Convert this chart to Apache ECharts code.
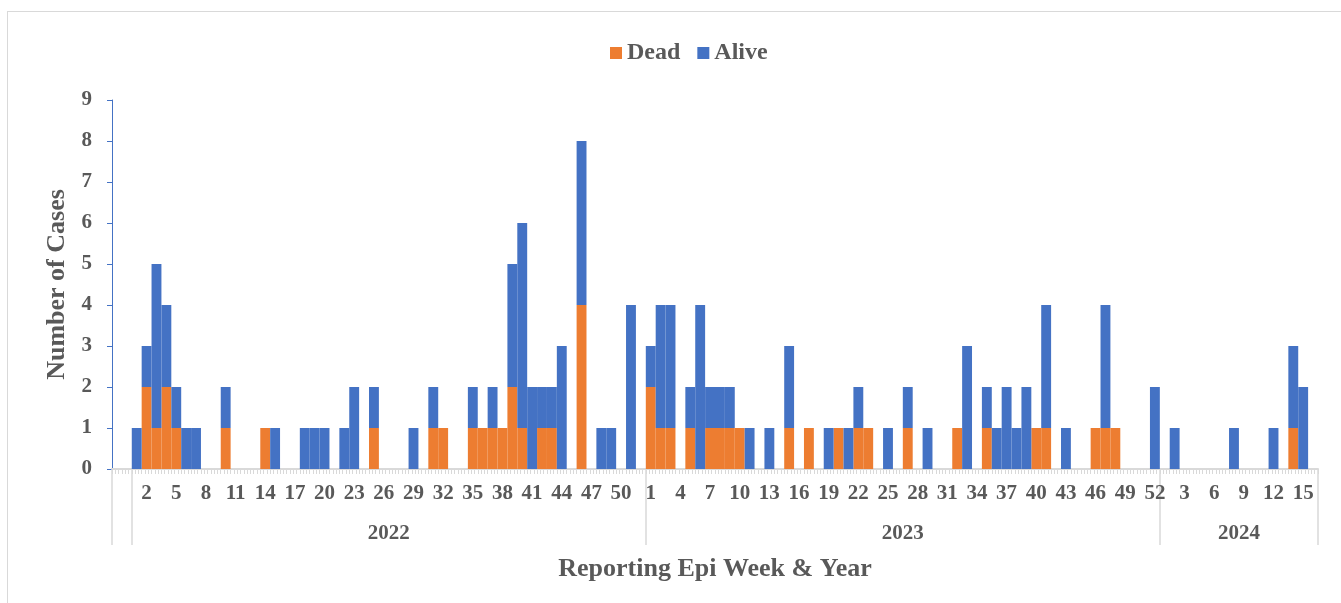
<!DOCTYPE html>
<html>
<head>
<meta charset="utf-8">
<script src="https://cdn.jsdelivr.net/npm/echarts@6/dist/echarts.min.js"></script>
<style>
  html, body { margin: 0; padding: 0; background: #fff; }
  #chart { position: absolute; left: 0; top: 0; width: 1341px; height: 603px; }
  #frame { position: absolute; left: 7px; top: 11px; width: 1340px; height: 600px; border: 1px solid #d9d9d9; pointer-events: none; }
</style>
</head>
<body>
<div id="frame"></div>
<div id="chart"></div>
<script>
// cases per reporting epi week (Dead stacked under Alive)
const dead2022 = [0, 2, 1, 2, 1, 0, 0, 0, 0, 1, 0, 0, 0, 1, 0, 0, 0, 0, 0, 0, 0, 0, 0, 0, 1, 0,
                  0, 0, 0, 0, 1, 1, 0, 0, 1, 1, 1, 1, 2, 1, 0, 1, 1, 0, 0, 4, 0, 0, 0, 0, 0, 0]
const alive2022 = [1, 1, 4, 2, 1, 1, 1, 0, 0, 1, 0, 0, 0, 0, 1, 0, 0, 1, 1, 1, 0, 1, 2, 0, 1, 0,
                   0, 0, 1, 0, 1, 0, 0, 0, 1, 0, 1, 0, 3, 5, 2, 1, 1, 3, 0, 4, 0, 1, 1, 0, 4, 0]
const dead2023 = [2, 1, 1, 0, 1, 0, 1, 1, 1, 1, 0, 0, 0, 0, 1, 0, 1, 0, 0, 1, 0, 1, 1, 0, 0, 0,
                  1, 0, 0, 0, 0, 1, 0, 0, 1, 0, 0, 0, 0, 1, 1, 0, 0, 0, 0, 1, 1, 1, 0, 0, 0, 0]
const alive2023 = [1, 3, 3, 0, 1, 4, 1, 1, 1, 0, 1, 0, 1, 0, 2, 0, 0, 0, 1, 0, 1, 1, 0, 0, 1, 0,
                   1, 0, 1, 0, 0, 0, 3, 0, 1, 1, 2, 1, 2, 0, 3, 0, 1, 0, 0, 0, 3, 0, 0, 0, 0, 2]
const dead2024 = [0, 0, 0, 0, 0, 0, 0, 0, 0, 0, 0, 0, 0, 1, 0, 0]
const alive2024 = [0, 1, 0, 0, 0, 0, 0, 1, 0, 0, 0, 1, 0, 2, 2, 0]

// two empty slots sit before 2022 on the original axis
const leadBlanks = ['', '']
const years = ['2022', '2023', '2024']
const yTicks = [0, 1, 2, 3, 4, 5, 6, 7, 8, 9]

const weekLabels = arr => arr.map((_, i) => String(i + 1))
const categories = [...leadBlanks, ...weekLabels(dead2022), ...weekLabels(dead2023), ...weekLabels(dead2024)]
const deadData = [null, null, ...dead2022, ...dead2023, ...dead2024]
const aliveData = [null, null, ...alive2022, ...alive2023, ...alive2024]

// year group boundaries / centres in category units
const groupSizes = [leadBlanks.length, dead2022.length, dead2023.length, dead2024.length]
const bounds = [0]
groupSizes.forEach(s => bounds.push(bounds[bounds.length - 1] + s))
const yearCentres = [1, 2, 3].map(i => (bounds[i] + bounds[i + 1]) / 2)
const nCat = categories.length

const txt = '#595959'
const font = "'Liberation Serif', 'Times New Roman', serif"

const chart = echarts.init(document.getElementById('chart'))
chart.setOption({
  animation: false,
  backgroundColor: 'transparent',
  textStyle: { fontFamily: font },
  legend: {
    data: ['Dead', 'Alive'],
    top: 36,
    left: 605,
    itemWidth: 12,
    itemHeight: 12,
    itemGap: 17,
    icon: 'rect',
    textStyle: { color: txt, fontSize: 24, fontWeight: 'bold', fontFamily: font }
  },
  grid: { left: 112, right: 23, top: 100, bottom: 134 },
  xAxis: [
    {
      type: 'category',
      data: categories,
      name: 'Reporting Epi Week & Year',
      nameLocation: 'middle',
      nameGap: 87,
      nameTextStyle: { color: txt, fontSize: 26, fontWeight: 'bold', fontFamily: font },
      axisLine: { lineStyle: { color: '#d9d9d9', width: 2 } },
      axisTick: { interval: 0, length: 38, lineStyle: { color: '#d9d9d9', width: 1.5 } },
      axisLabel: { interval: 2, margin: 14, color: txt, fontSize: 21, fontWeight: 'bold', fontFamily: font },
      splitLine: { show: false }
    },
    {
      // year row
      type: 'value',
      min: 0,
      max: nCat,
      position: 'bottom',
      axisLine: { show: false },
      splitLine: { show: false },
      axisTick: { show: true, customValues: bounds, length: 76, lineStyle: { color: '#d9d9d9', width: 1.5 } },
      axisLabel: {
        customValues: yearCentres,
        formatter: v => years[yearCentres.indexOf(v)] || '',
        margin: 54,
        color: txt, fontSize: 21, fontWeight: 'bold', fontFamily: font
      }
    },
    {
      // fine tick marks
      type: 'value',
      min: 0,
      max: nCat * 3,
      interval: 1,
      position: 'bottom',
      axisLine: { show: false },
      splitLine: { show: false },
      axisTick: { show: true, length: 5, lineStyle: { color: '#d9d9d9', width: 1 } },
      axisLabel: { show: false }
    }
  ],
  yAxis: {
    type: 'value',
    min: yTicks[0],
    max: yTicks[yTicks.length - 1],
    interval: 1,
    name: 'Number of Cases',
    nameLocation: 'middle',
    nameGap: 40,
    nameTextStyle: { color: txt, fontSize: 26, fontWeight: 'bold', fontFamily: font },
    axisLine: { show: true, lineStyle: { color: '#4472c4', width: 1 } },
    axisTick: { show: true, length: 5, lineStyle: { color: '#4472c4' } },
    axisLabel: { margin: 20, color: txt, fontSize: 21, fontWeight: 'bold', fontFamily: font },
    splitLine: { show: false }
  },
  series: [
    {
      name: 'Dead',
      type: 'bar',
      stack: 'cases',
      data: deadData,
      barCategoryGap: 0,
      itemStyle: { color: '#ed7d31' }
    },
    {
      name: 'Alive',
      type: 'bar',
      stack: 'cases',
      data: aliveData,
      barCategoryGap: 0,
      itemStyle: { color: '#4472c4' }
    }
  ]
})
</script>
</body>
</html>
